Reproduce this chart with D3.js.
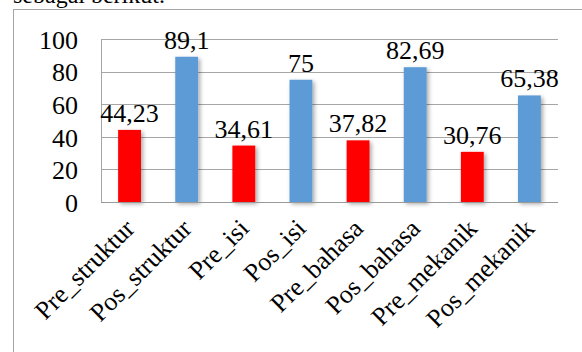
<!DOCTYPE html>
<html>
<head>
<meta charset="utf-8">
<script src="https://cdn.jsdelivr.net/npm/d3@7"></script>
<style>
  html, body { margin: 0; padding: 0; background: #fff; }
  svg { display: block; }
  text { font-family: "Liberation Serif", "Times New Roman", serif; fill: #000; }
</style>
</head>
<body>
<svg id="chart" width="582" height="352"></svg>
<script>
const categories = ["Pre_struktur", "Pos_struktur", "Pre_isi", "Pos_isi", "Pre_bahasa", "Pos_bahasa", "Pre_mekanik", "Pos_mekanik"];
const values = [44.23, 89.1, 34.61, 75, 37.82, 82.69, 30.76, 65.38];
const valueLabels = ["44,23", "89,1", "34,61", "75", "37,82", "82,69", "30,76", "65,38"];
const seriesType = ["pre", "pos", "pre", "pos", "pre", "pos", "pre", "pos"];
const yTicks = [0, 20, 40, 60, 80, 100];

const colors = { pre: "#FF0000", pos: "#5B9BD5" };

const svg = d3.select("#chart");

// caption fragment above the chart (cropped in reference)
svg.append("text")
  .attr("x", 13).attr("y", 3)
  .style("font-size", "24px")
  .text("sebagai berikut.");

// outer chart border (extends beyond the visible area right/bottom)
svg.append("rect")
  .attr("x", 13.5).attr("y", 9.5)
  .attr("width", 600).attr("height", 400)
  .attr("fill", "none").attr("stroke", "#A6A6A6").attr("stroke-width", 1);

const defs = svg.append("defs");
const f = defs.append("filter").attr("id", "shadow")
  .attr("x", "-30%").attr("y", "-10%").attr("width", "170%").attr("height", "130%");
f.append("feDropShadow").attr("dx", 2).attr("dy", 2).attr("stdDeviation", 2)
  .attr("flood-color", "#000").attr("flood-opacity", 0.35);

const x = d3.scaleBand().domain(categories).range([101, 558]).paddingInner(0.6).paddingOuter(0.3);
const y = d3.scaleLinear().domain([0, 100]).range([202, 39]);

// gridlines
svg.append("g").selectAll("line").data(yTicks).join("line")
  .attr("x1", 101).attr("x2", 558)
  .attr("y1", d => Math.round(y(d)) + 0.5).attr("y2", d => Math.round(y(d)) + 0.5)
  .attr("stroke", "#A6A6A6").attr("stroke-width", 1);

// left vertical axis line
svg.append("line")
  .attr("x1", 101.5).attr("x2", 101.5)
  .attr("y1", Math.round(y(100)) + 0.5).attr("y2", Math.round(y(0)) + 0.5)
  .attr("stroke", "#A6A6A6");

// y tick labels
svg.append("g").selectAll("text").data(yTicks).join("text")
  .attr("x", 78).attr("y", d => y(d))
  .attr("dy", "0.38em")
  .attr("text-anchor", "end")
  .style("font-size", "26px")
  .text(d => d);

// bars
svg.append("g").selectAll("rect").data(categories).join("rect")
  .attr("x", d => x(d))
  .attr("width", x.bandwidth())
  .attr("y", (d, i) => y(values[i]))
  .attr("height", (d, i) => y(0) - y(values[i]))
  .attr("fill", (d, i) => colors[seriesType[i]])
  .attr("filter", "url(#shadow)");

// bottom axis line
svg.append("line")
  .attr("x1", 101).attr("x2", 558)
  .attr("y1", Math.round(y(0)) + 0.5).attr("y2", Math.round(y(0)) + 0.5)
  .attr("stroke", "#999999");

// data labels
svg.append("g").selectAll("text").data(categories).join("text")
  .attr("x", d => x(d) + x.bandwidth() / 2)
  .attr("y", (d, i) => y(values[i]) - 8)
  .attr("text-anchor", "middle")
  .style("font-size", "26px")
  .text((d, i) => valueLabels[i]);

// category labels rotated
svg.append("g").selectAll("text").data(categories).join("text")
  .attr("transform", d => `translate(${x(d) + x.bandwidth() / 2 + 6.5},${y(0) + 28}) rotate(-45)`)
  .attr("text-anchor", "end")
  .style("font-size", "26px")
  .text(d => d);
</script>
</body>
</html>
